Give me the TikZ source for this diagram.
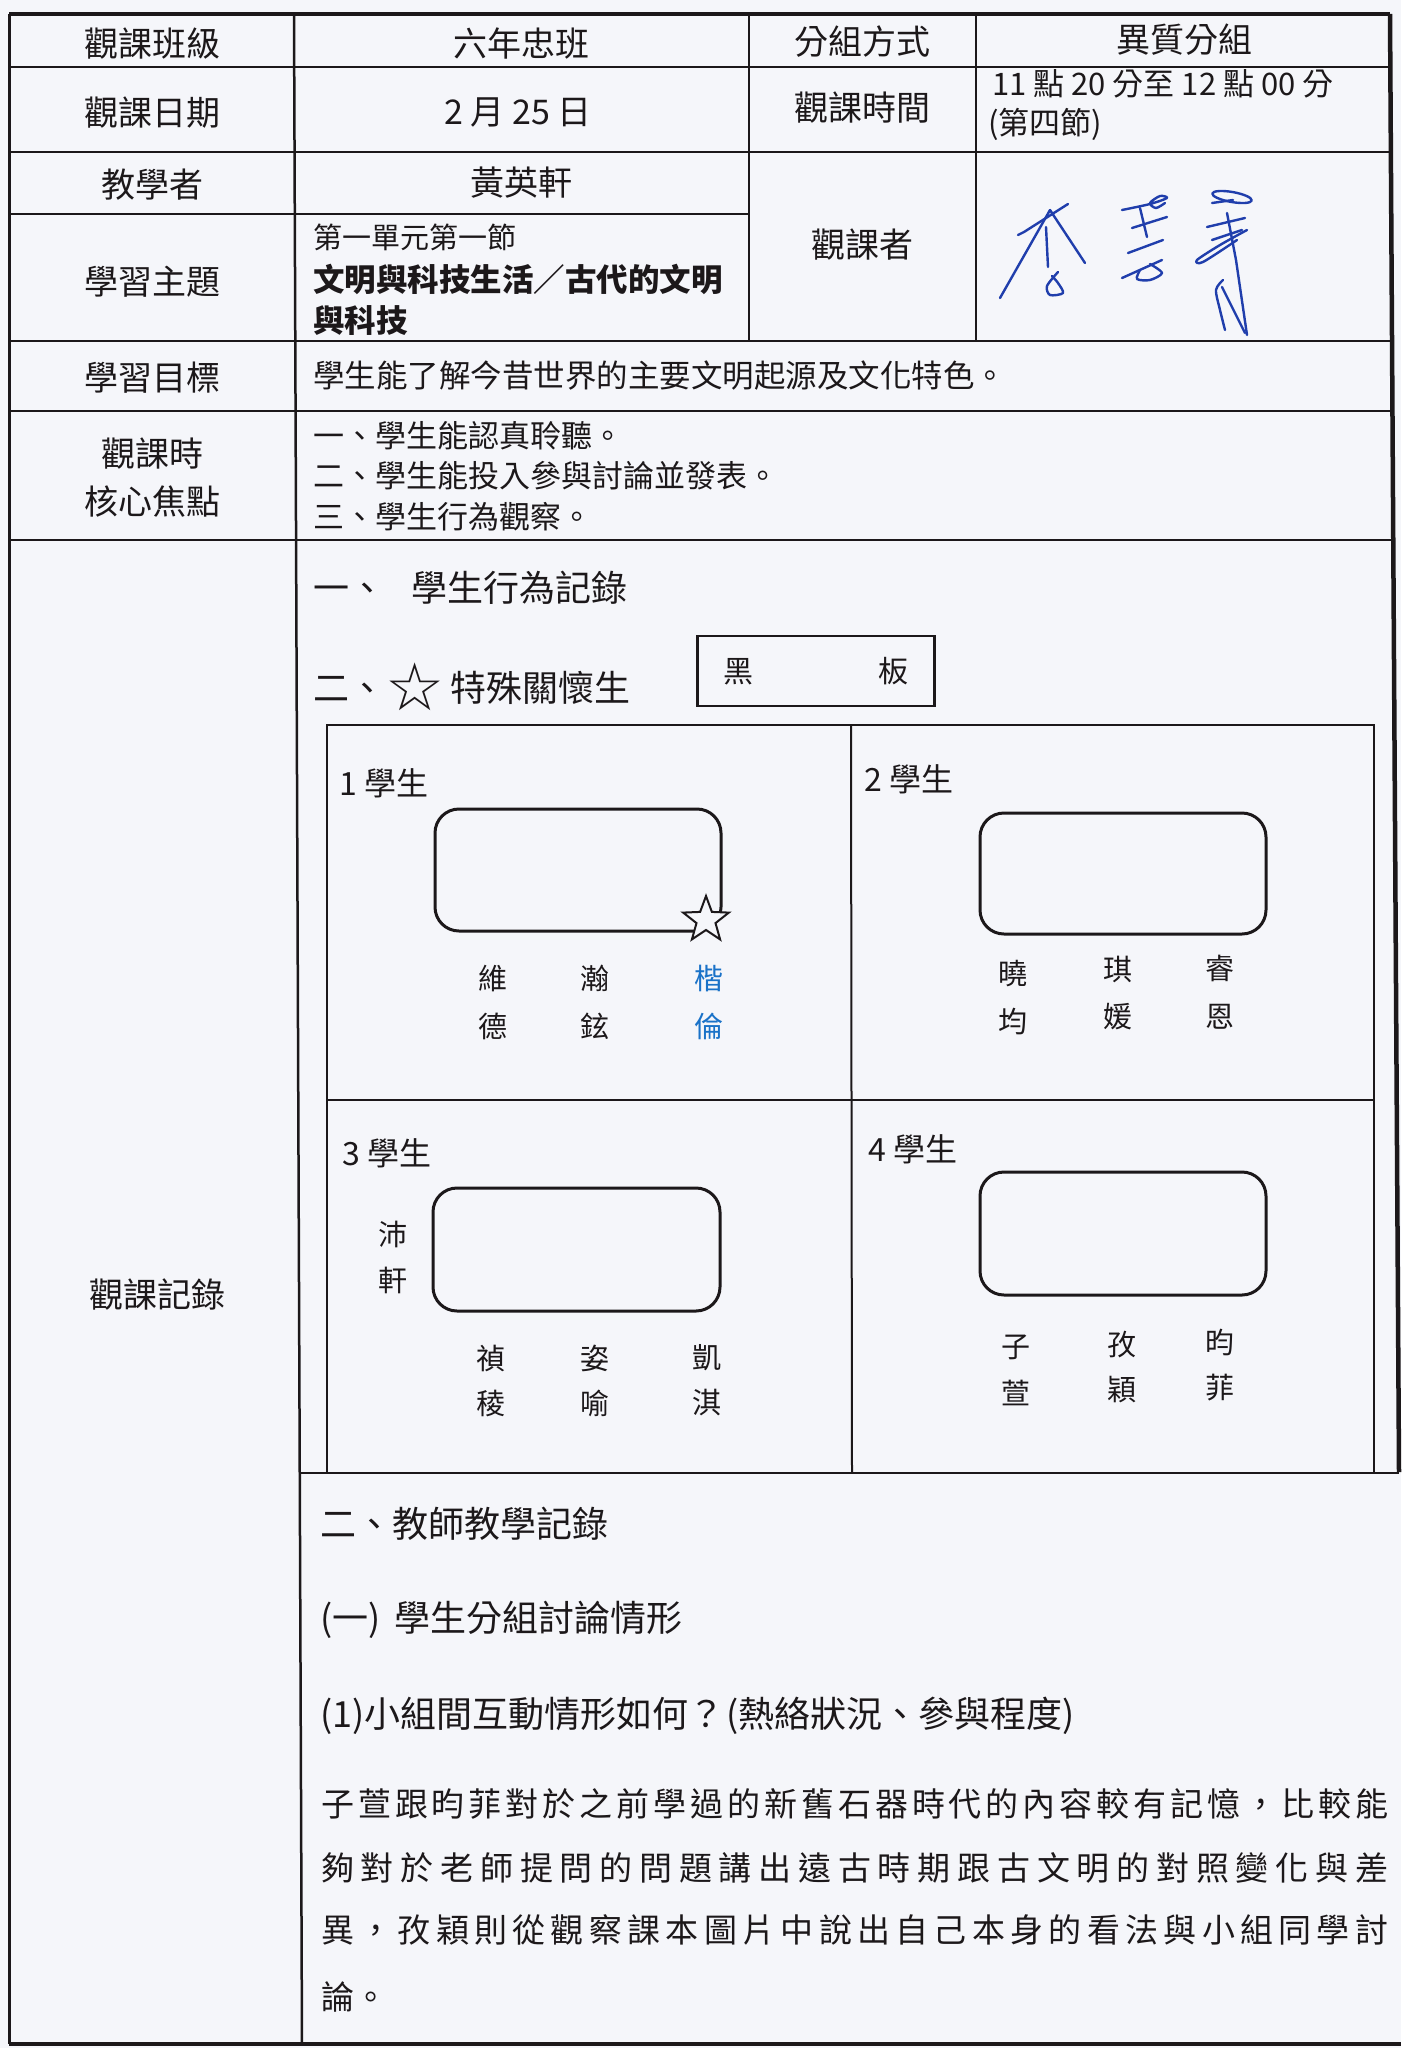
\documentclass[tikz,border=0pt]{standalone}
\usepackage{fontspec}
\setmainfont{Noto Sans CJK TC}
\newfontfamily\symf{DejaVu Sans}
\usetikzlibrary{shapes.geometric}
\definecolor{paper}{RGB}{245,246,250}
\definecolor{ink}{RGB}{28,24,26}
\definecolor{pen}{RGB}{32,62,172}
\definecolor{mark}{RGB}{26,114,200}
\newcommand{\spr}[1]{\ifx#1\relax\else#1\hfil\expandafter\spr\fi}
\newcommand{\jline}[1]{\hbox to 1067pt{\spr#1\relax\unskip}}

\begin{document}
\begin{tikzpicture}[x=1pt,y=-1pt,
  rule/.style={draw=ink,line width=2.5pt},
  edge/.style={draw=ink,line width=4.5pt},
  seat/.style={draw=ink,line width=3pt,rounded corners=24pt},
  hd/.style={text=ink,font=\fontsize{34}{40}\selectfont,inner sep=0pt},
  tx/.style={text=ink,font=\fontsize{31}{36}\selectfont,inner sep=0pt,anchor=west},
  sec/.style={text=ink,font=\fontsize{36}{42}\selectfont,inner sep=0pt,anchor=west},
  nm/.style={text=ink,font=\fontsize{29}{34}\selectfont,inner sep=0pt},
  sig/.style={draw=pen,line width=2.4pt,line cap=round,line join=round}]
	\useasboundingbox[fill=paper] (0,0) rectangle (1401,2048);
	\draw[edge] (9,14) -- (1390,14);
	\draw[edge] (1390,14) -- (1399,1472);
	\draw[edge] (9,2044) -- (1401,2044);
	\draw[rule,line width=3pt] (9,14) -- (9,2044);
	\draw[rule] (9,67) -- (1390,67);
	\draw[rule] (9,152) -- (1391,152);
	\draw[rule] (9,214) -- (749,214);
	\draw[rule] (9,341) -- (1392,341);
	\draw[rule] (9,411) -- (1393,411);
	\draw[rule] (9,540) -- (1393,540);
	\draw[rule] (294,14) -- (302,2044);
	\draw[rule] (749,14) -- (749,341);
	\draw[rule] (976,14) -- (976,341);
	\draw[rule] (299,1473) -- (1399,1473);
	\node[hd] (c11) at (152,44) {觀課班級};
	\node[hd] (c12) at (521,44) {六年忠班};
	\node[hd] (c13) at (862,42) {分組方式};
	\node[hd] (c14) at (1184,40) {異質分組};
	\node[hd] (c21) at (152,113) {觀課日期};
	\node[hd] (c22) at (518,112) {2 月 25 日};
	\node[hd] (c23) at (862,108) {觀課時間};
	\node[tx] (t1) at (992,84) {11 點 20 分至 12 點 00 分};
	\node[tx] (t2) at (988,124) {(第四節)};
	\node[hd] (c31) at (152,185) {教學者};
	\node[hd] (c32) at (521,183) {黃英軒};
	\node[hd] (c33) at (862,245) {觀課者};
	\node[hd] (c41) at (152,282) {學習主題};
	\node[tx,font=\fontsize{29}{34}\selectfont] (u1) at (313,237) {第一單元第一節};
	\node[tx,font=\fontsize{31.5}{36}\selectfont] (u2) at (313,279) {\bfseries 文明與科技生活／古代的文明};
	\node[tx,font=\fontsize{31.5}{36}\selectfont] (u3) at (313,321) {\bfseries 與科技};
	\node[hd] (c51) at (152,378) {學習目標};
	\node[tx,font=\fontsize{31.5}{36}\selectfont] (g1) at (313,376) {學生能了解今昔世界的主要文明起源及文化特色。};
	\node[hd] (c61) at (152,454) {觀課時};
	\node[hd] (c62) at (152,502) {核心焦點};
	\node[tx] (f1) at (313,436) {一、學生能認真聆聽。};
	\node[tx] (f2) at (313,476) {二、學生能投入參與討論並發表。};
	\node[tx] (f3) at (313,517) {三、學生行為觀察。};
	\node[hd] (c71) at (157,1294) {觀課記錄};
	\draw[sig] (1018,235) -- (1024,232) -- (1068,204);
	\draw[sig] (1050,210) -- (1000,298);
	\draw[sig] (1050,210) -- (1085,263);
	\draw[sig] (1046,227) -- (1048,267);
	\draw[sig] plot[smooth] coordinates {(1058,272) (1047,286) (1050,295) (1063,293) (1058,283) (1052,276)};
	\draw[sig] plot[smooth] coordinates {(1122,210) (1150,204) (1167,198) (1160,196) (1150,203) (1156,208) (1165,203)};
	\draw[sig] (1140,208) -- (1147,237);
	\draw[sig] (1132,228) -- (1167,217);
	\draw[sig] (1128,253) -- (1163,240);
	\draw[sig] (1122,278) -- (1162,260);
	\draw[sig] plot[smooth] coordinates {(1140,270) (1137,279) (1150,280) (1162,273) (1150,264)};
	\draw[sig,rotate around={-10:(1232,197)}] (1232,197) ellipse (20 and 5);
	\draw[sig] (1212,203) -- (1233,200);
	\draw[sig] (1207,227) -- (1245,218);
	\draw[sig] (1212,240) -- (1242,230);
	\draw[sig] plot[smooth] coordinates {(1247,230) (1220,245) (1197,260) (1203,262) (1237,240)};
	\draw[sig] (1227,213) -- (1236,260) -- (1247,335);
	\draw[sig] plot[smooth] coordinates {(1223,280) (1216,290) (1220,310) (1225,330)};
	\draw[sig] (1222,287) -- (1245,333);
	\node[sec] (s1) at (313,588) {一、\hspace{26pt}學生行為記錄};
	\node[sec] (s2) at (313,687) {二、\raisebox{-9pt}{\symf\fontsize{66}{66}\selectfont ☆}\hspace{6pt}特殊關懷生};
	\node[draw=ink,line width=2.5pt,minimum width=237pt,minimum height=70pt,font=\fontsize{30}{36}\selectfont,text=ink] (board) at (816,671) {黑\hspace{125pt}板};
	\draw[rule,line width=2pt] (327,725) rectangle (1374,1473);
	\draw[rule,line width=2pt] (851,725) -- (852,1473);
	\draw[rule,line width=2pt] (327,1100) -- (1374,1100);
	\node[tx,font=\fontsize{32}{38}\selectfont] (l1) at (339,783) {1 學生};
	\node[tx,font=\fontsize{32}{38}\selectfont] (l2) at (864,779) {2 學生};
	\node[tx,font=\fontsize{32}{38}\selectfont] (l3) at (342,1153) {3 學生};
	\node[tx,font=\fontsize{32}{38}\selectfont] (l4) at (868,1149) {4 學生};
	\draw[seat] (435,809) rectangle (721,931);
	\draw[seat] (980,813) rectangle (1266,934);
	\draw[seat] (433,1188) rectangle (720,1311);
	\draw[seat] (980,1172) rectangle (1266,1295);
	\node[star,star points=5,star point ratio=2.4,draw=ink,fill=paper,line width=2pt,minimum size=48pt,inner sep=0pt] (spec) at (706,920) {};
	\node[nm] (a1) at (493,978) {維};
	\node[nm] (a2) at (493,1026) {德};
	\node[nm] (a3) at (595,978) {瀚};
	\node[nm] (a4) at (595,1026) {鉉};
	\node[nm,text=mark] (a5) at (709,978) {楷};
	\node[nm,text=mark] (a6) at (709,1026) {倫};
	\node[nm] (b1) at (1013,974) {曉};
	\node[nm] (b2) at (1013,1022) {均};
	\node[nm] (b3) at (1118,969) {琪};
	\node[nm] (b4) at (1118,1017) {媛};
	\node[nm] (b5) at (1220,968) {睿};
	\node[nm] (b6) at (1220,1017) {恩};
	\node[nm] (d1) at (393,1234) {沛};
	\node[nm] (d2) at (393,1280) {軒};
	\node[nm] (d3) at (491,1358) {禎};
	\node[nm] (d4) at (491,1403) {稜};
	\node[nm] (d5) at (595,1358) {姿};
	\node[nm] (d6) at (595,1403) {喻};
	\node[nm] (d7) at (707,1358) {凱};
	\node[nm] (d8) at (707,1403) {淇};
	\node[nm] (e1) at (1016,1347) {子};
	\node[nm] (e2) at (1016,1393) {萱};
	\node[nm] (e3) at (1122,1345) {孜};
	\node[nm] (e4) at (1122,1390) {穎};
	\node[nm] (e5) at (1220,1342) {昀};
	\node[nm] (e6) at (1220,1388) {菲};
	\node[sec] (h1) at (320,1524) {二、教師教學記錄};
	\node[sec] (h2) at (320,1620) {(一)\hspace{14pt}學生分組討論情形};
	\node[sec] (h3) at (320,1716) {(1)小組間互動情形如何？\hspace{2pt}(熱絡狀況、參與程度)};
	\node[sec,font=\fontsize{33}{40}\selectfont] (p1) at (321,1804) {\jline{子萱跟昀菲對於之前學過的新舊石器時代的內容較有記憶，比較能}};
	\node[sec,font=\fontsize{33}{40}\selectfont] (p2) at (321,1868) {\jline{夠對於老師提問的問題講出遠古時期跟古文明的對照變化與差}};
	\node[sec,font=\fontsize{33}{40}\selectfont] (p3) at (321,1930) {\jline{異，孜穎則從觀察課本圖片中說出自己本身的看法與小組同學討}};
	\node[sec,font=\fontsize{33}{40}\selectfont] (p4) at (321,1997) {論。};
\end{tikzpicture}
\end{document}
